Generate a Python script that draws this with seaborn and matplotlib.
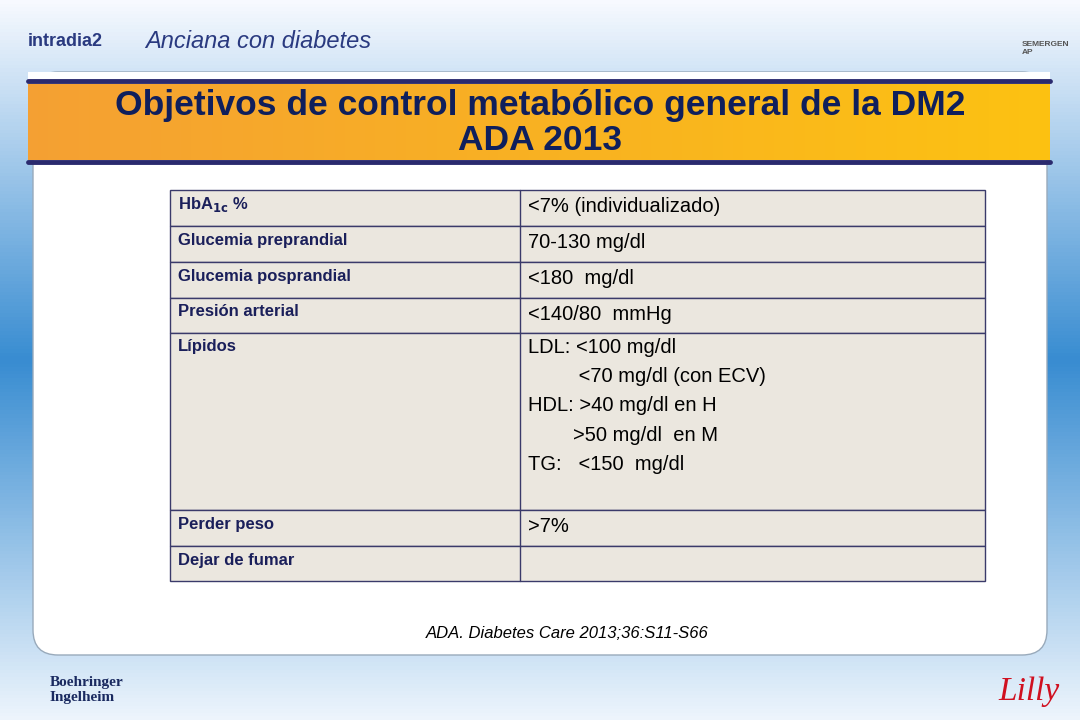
import numpy as np
import matplotlib
matplotlib.use("Agg")
import matplotlib.pyplot as plt
from matplotlib.patches import FancyBboxPatch, Rectangle
import seaborn as sns

sns.set_theme(style="white", font="Liberation Sans")

labels = ["HbA$_{\\mathbf{1c}}$ %", "Glucemia preprandial", "Glucemia posprandial",
          "Presión arterial", "Lípidos", "Perder peso", "Dejar de fumar"]
values = ["<7% (individualizado)", "70-130 mg/dl", "<180  mg/dl", "<140/80  mmHg",
          "LDL: <100 mg/dl\n         <70 mg/dl (con ECV)\nHDL: >40 mg/dl en H\n        >50 mg/dl  en M\nTG:   <150  mg/dl",
          ">7%", ""]
row_edges = [190, 226, 262, 298, 333, 510, 546, 581]

fig = plt.figure(figsize=(10.8, 7.2), dpi=100)
ax = fig.add_axes([0, 0, 1, 1])
ax.set_xlim(0, 1080); ax.set_ylim(720, 0); ax.axis("off")

# background gradient
ys = np.linspace(0, 1, 200)
top = np.array([0.97, 0.98, 1.0]); mid = np.array([0.22, 0.55, 0.82]); bot = np.array([0.93, 0.96, 0.99])
cols = []
for t in ys:
    if t < 0.5:
        c = top + (mid - top) * (t / 0.5)
    else:
        c = mid + (bot - mid) * ((t - 0.5) / 0.5)
    cols.append(c)
grad = np.array(cols)[:, None, :].repeat(2, axis=1)
ax.imshow(grad, extent=[0, 1080, 720, 0], aspect="auto", zorder=0)

# white panel
ax.add_patch(FancyBboxPatch((33, 72), 1014, 583, boxstyle="round,pad=0,rounding_size=25",
                            fc="white", ec="#9ab", lw=1, zorder=1))
ax.add_patch(Rectangle((28, 72), 1022, 20, fc="white", ec="none", zorder=1))
# banner
bx = np.linspace(0, 1, 100)
c0 = np.array([0.96, 0.63, 0.20]); c1 = np.array([0.99, 0.76, 0.07])
bc = c0[None, :] + bx[:, None] * (c1 - c0)[None, :]
ax.imshow(bc[None, :, :], extent=[28, 1050, 160, 84], aspect="auto", zorder=2)
ax.plot([28, 1050], [81, 81], color="#2a2a6e", lw=3.5, zorder=3)
ax.plot([28, 1050], [162, 162], color="#2a2a6e", lw=3.5, zorder=3)
ax.text(540, 106, "Objetivos de control metabólico general de la DM2", ha="center", va="center",
        fontsize=25.5, fontweight="heavy", color="#0f1f5c", zorder=4)
ax.text(540, 141, "ADA 2013", ha="center", va="center", fontsize=25.5, fontweight="heavy",
        color="#0f1f5c", zorder=4)

# header
ax.text(145, 41, "Anciana con diabetes", fontsize=17, style="italic", color="#2a3a80", va="center")
ax.text(28, 41, "intradia2", fontsize=13, fontweight="bold", color="#2a3a80", va="center")
ax.text(1022, 48, "SEMERGEN\nAP", fontsize=6, fontweight="bold", color="#555", va="center")

# table
x0, x1, x2 = 170, 520, 985
for i, (lab, val) in enumerate(zip(labels, values)):
    ya, yb = row_edges[i], row_edges[i + 1]
    ax.add_patch(Rectangle((x0, ya), x2 - x0, yb - ya, fc="#ebe7df", ec="#3a3a6a", lw=1, zorder=2))
    ax.plot([x1, x1], [ya, yb], color="#3a3a6a", lw=1, zorder=3)
    ax.text(178, ya + 14, lab, fontsize=12, fontweight="bold", color="#1a1f5a", va="center", zorder=4)
    if "\n" in val:
        ax.text(528, ya + 5, val, fontsize=14.5, color="black", va="top", linespacing=1.68, zorder=4)
    else:
        ax.text(528, ya + 17, val, fontsize=14.5, color="black", va="center", zorder=4)

ax.text(567, 633, "ADA. Diabetes Care 2013;36:S11-S66", ha="center", va="center", fontsize=12,
        style="italic", color="black", zorder=4)

# footer
ax.text(50, 690, "Boehringer\nIngelheim", fontsize=11, fontweight="bold", color="#1a2a60",
        va="center", family="Liberation Serif")
ax.text(1060, 692, "Lilly", fontsize=24, style="italic", color="#d01020", ha="right", va="center",
        family="Liberation Serif")

fig.savefig("out.png", dpi=100)
